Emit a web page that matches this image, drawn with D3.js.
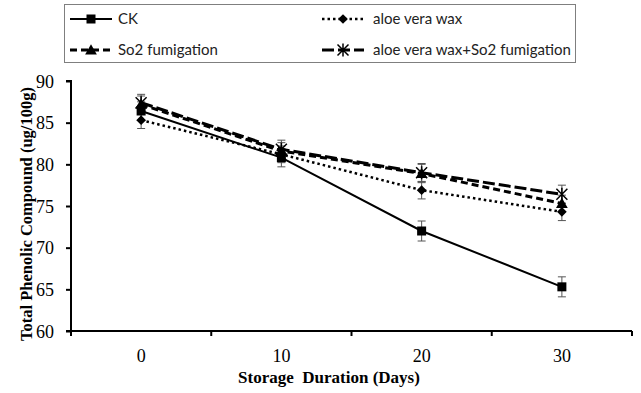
<!DOCTYPE html>
<html>
<head>
<meta charset="utf-8">
<script src="https://cdn.jsdelivr.net/npm/d3@7"></script>
<style>
  body { margin: 0; background: #fff; }
  svg { display: block; }
</style>
</head>
<body>
<svg id="chart"></svg>
<script>
// storage days (x categories)
var days = ["0", "10", "20", "30"];
var yTicks = [60, 65, 70, 75, 80, 85, 90];

// total phenolic compound (ug/100g)
var ck = [86.4, 80.8, 72.0, 65.3];
var aloe = [85.3, 81.2, 76.9, 74.3];
var so2 = [87.2, 81.6, 78.9, 75.3];
var aloeSo2 = [87.4, 81.8, 79.0, 76.4];

// error bars (+/-)
var ckErr = [1.1, 1.1, 1.2, 1.2];
var aloeErr = [1.0, 1.0, 1.05, 1.05];
var so2Err = [1.0, 1.0, 1.1, 1.0];
var aloeSo2Err = [1.0, 1.1, 1.1, 1.1];

var seriesNames = ["CK", "aloe vera wax", "So2 fumigation", "aloe vera wax+So2 fumigation"];

var width = 641,
    height = 393;

var svg = d3.select("#chart")
    .attr("width", width)
    .attr("height", height);

var x = d3.scaleBand()
    .domain(days)
    .range([71, 632]);

var y = d3.scaleLinear()
    .domain([60, 90])
    .range([331, 81]);

var series = [
  {name: seriesNames[0], values: ck, err: ckErr, dash: null, sw: 2, marker: "square"},
  {name: seriesNames[1], values: aloe, err: aloeErr, dash: "2.5,3", sw: 2.5, marker: "diamond"},
  {name: seriesNames[2], values: so2, err: so2Err, dash: "7,4", sw: 3, marker: "triangle"},
  {name: seriesNames[3], values: aloeSo2, err: aloeSo2Err, dash: "12,4", sw: 3, marker: "star"}
];

// axes
var yAxis = d3.axisLeft(y).tickValues(yTicks).tickSize(5).tickFormat(d3.format("d"));
var gy = svg.append("g")
    .attr("transform", "translate(71,0)")
    .call(yAxis);
gy.select(".domain").attr("stroke", "#000").attr("stroke-width", 2).attr("d", "M-5,81H0V331H-5");
gy.selectAll(".tick line").attr("stroke", "#000").attr("stroke-width", 2);
gy.selectAll(".tick text")
    .attr("x", -17)
    .attr("dy", "0.34em")
    .style("font-family", "'Liberation Serif', 'Times New Roman', serif")
    .style("font-size", "18px")
    .attr("fill", "#000");

var gx = svg.append("g").attr("transform", "translate(0,331)");
gx.append("line")
    .attr("x1", 71).attr("x2", 632)
    .attr("stroke", "#000").attr("stroke-width", 2);
var bounds = days.map(function(d){ return x(d); }).concat([x(days[days.length - 1]) + x.bandwidth()]);
gx.selectAll(".xt")
    .data(bounds)
    .enter()
    .append("line")
    .attr("x1", function(d){ return d; })
    .attr("x2", function(d){ return d; })
    .attr("y1", 0).attr("y2", 5)
    .attr("stroke", "#000").attr("stroke-width", 2);
gx.selectAll(".xl")
    .data(days)
    .enter()
    .append("text")
    .attr("x", function(d){ return x(d) + x.bandwidth() / 2; })
    .attr("y", 31)
    .attr("text-anchor", "middle")
    .style("font-family", "'Liberation Serif', 'Times New Roman', serif")
    .style("font-size", "18px")
    .text(function(d){ return d; });

// axis titles
svg.append("text")
    .attr("x", 329)
    .attr("y", 383)
    .attr("text-anchor", "middle")
    .style("font-family", "'Liberation Serif', 'Times New Roman', serif")
    .style("font-size", "17px")
    .style("font-weight", "bold")
    .attr("xml:space", "preserve")
    .text("Storage  Duration (Days)");

svg.append("text")
    .attr("transform", "translate(32,214) rotate(-90)")
    .attr("text-anchor", "middle")
    .style("font-family", "'Liberation Serif', 'Times New Roman', serif")
    .style("font-size", "16.5px")
    .style("font-weight", "bold")
    .text("Total Phenolic Compound (ug/100g)");

function cx(i){ return x(days[i]) + x.bandwidth() / 2; }

function drawMarker(g, type, px, py){
  if (type === "square") {
    g.append("rect").attr("x", px - 4.5).attr("y", py - 4.5)
      .attr("width", 9).attr("height", 9).attr("fill", "#000");
  } else if (type === "diamond") {
    g.append("path").attr("d", d3.symbol().type(d3.symbolDiamond2).size(60)())
      .attr("transform", "translate(" + px + "," + py + ")").attr("fill", "#000");
  } else if (type === "triangle") {
    g.append("path").attr("d", d3.symbol().type(d3.symbolTriangle).size(60)())
      .attr("transform", "translate(" + px + "," + (py + 1) + ")").attr("fill", "#000");
  } else {
    var s = 5.5;
    g.append("path")
      .attr("d", "M" + (px - s) + "," + (py - s) + "L" + (px + s) + "," + (py + s) +
                 "M" + (px - s) + "," + (py + s) + "L" + (px + s) + "," + (py - s) +
                 "M" + px + "," + (py - s - 1) + "L" + px + "," + (py + s + 1))
      .attr("stroke", "#000").attr("stroke-width", 1.5).attr("fill", "none");
  }
}

var line = d3.line()
    .x(function(d, i){ return cx(i); })
    .y(function(d){ return y(d); });

// error bars
series.forEach(function(s){
  var g = svg.append("g");
  s.values.forEach(function(v, i){
    var e = s.err[i];
    var xx = cx(i);
    g.append("path")
      .attr("d", "M" + (xx - 4) + "," + y(v + e) + "H" + (xx + 4) +
                 "M" + xx + "," + y(v + e) + "V" + y(v - e) +
                 "M" + (xx - 4) + "," + y(v - e) + "H" + (xx + 4))
      .attr("stroke", "#555").attr("stroke-width", 1).attr("fill", "none");
  });
});

// lines + markers
series.forEach(function(s){
  var g = svg.append("g");
  g.append("path")
    .datum(s.values)
    .attr("d", line)
    .attr("fill", "none")
    .attr("stroke", "#000")
    .attr("stroke-width", s.sw)
    .attr("stroke-dasharray", s.dash);
  s.values.forEach(function(v, i){ drawMarker(g, s.marker, cx(i), y(v)); });
});

// legend
var lg = svg.append("g");
lg.append("rect")
    .attr("x", 64.5).attr("y", 4.5)
    .attr("width", 511).attr("height", 58)
    .attr("fill", "#fff").attr("stroke", "#7f7f7f").attr("stroke-width", 1);

var legendPos = [[70, 19], [322, 19], [70, 50], [322, 50]];
series.forEach(function(s, j){
  var p = legendPos[j];
  lg.append("line")
    .attr("x1", p[0]).attr("x2", p[0] + 42)
    .attr("y1", p[1]).attr("y2", p[1])
    .attr("stroke", "#000").attr("stroke-width", s.sw)
    .attr("stroke-dasharray", s.dash);
  drawMarker(lg, s.marker, p[0] + 21, p[1]);
  lg.append("text")
    .attr("x", p[0] + (j % 2 ? 51 : 48))
    .attr("y", p[1])
    .attr("dy", "0.35em")
    .style("font-family", "Lato, 'Open Sans', sans-serif")
    .style("font-size", "15px")
    .attr("fill", "#222")
    .text(s.name);
});
</script>
</body>
</html>
